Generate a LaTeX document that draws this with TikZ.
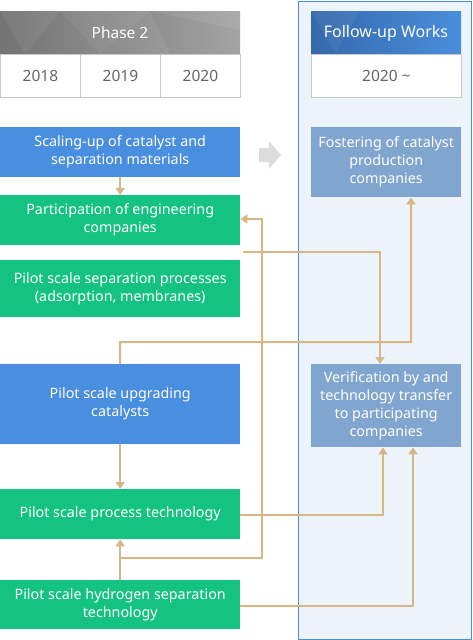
\documentclass[tikz,border=0pt]{standalone}
\usepackage{fontspec}
\setmainfont{Noto Sans}
\usetikzlibrary{arrows.meta}
\definecolor{cblue}{HTML}{4A8EDF}
\definecolor{cgreen}{HTML}{14C382}
\definecolor{csteel}{HTML}{80A6CF}
\definecolor{ctan}{HTML}{D6B785}
\definecolor{cpanel}{HTML}{EDF3FB}
\definecolor{cpanelb}{HTML}{4A8EDF}
\definecolor{cgridl}{HTML}{C8C8C8}
\definecolor{cyear}{HTML}{666666}
\definecolor{carrowg}{HTML}{DCDCDC}
\definecolor{chead1}{HTML}{3468AC}
\definecolor{chead2}{HTML}{4A8EDC}
\begin{document}
\begin{tikzpicture}[x=1pt,y=-1pt,
  boxbase/.style={anchor=north west, inner sep=0pt, text=white, align=center,
    font=\fontsize{14.3}{18}\selectfont},
  bluebox/.style={boxbase, fill=cblue},
  greenbox/.style={boxbase, fill=cgreen},
  steelbox/.style={boxbase, fill=csteel},
  yearbox/.style={anchor=north west, inner sep=0pt, draw=cgridl, line width=0.8pt, fill=white,
    text=cyear, font=\fontsize{15.5}{18}\selectfont},
  headtxt/.style={text=white, font=\fontsize{15.5}{18}\selectfont},
  conn/.style={draw=ctan, line width=2pt, -{Triangle[width=9pt,length=7pt]}},
  connp/.style={draw=ctan, line width=2pt}
]
\useasboundingbox (0,0) rectangle (472,640);
\fill[white] (0,0) rectangle (472,640);

% follow-up panel
\draw[draw=cpanelb, fill=cpanel, line width=1pt] (298,1) rectangle (471,639);

% headers
\shade[left color=black!55, right color=black!33] (0,11) rectangle (240,54);
\fill[white, opacity=0.06] (0,11) -- (60,11) -- (25,54) -- cycle;
\fill[white, opacity=0.05] (60,11) -- (150,11) -- (100,54) -- cycle;
\fill[black, opacity=0.04] (150,11) -- (240,30) -- (240,54) -- (170,54) -- cycle;
\node[headtxt] (ph2) at (120,33) {Phase 2};
\shade[left color=chead1, right color=chead2] (311,11) rectangle (461,54);
\fill[white, opacity=0.05] (311,11) -- (360,11) -- (335,54) -- cycle;
\node[headtxt, font=\fontsize{16}{18}\selectfont] (fw) at (386,33) {Follow-up Works};

\node[yearbox, minimum width=80pt, minimum height=43pt] (y1) at (0,54) {2018};
\node[yearbox, minimum width=80pt, minimum height=43pt] (y2) at (80,54) {2019};
\node[yearbox, minimum width=80pt, minimum height=43pt] (y3) at (160,54) {2020};
\node[yearbox, minimum width=150pt, minimum height=43pt] (y4) at (311,54) {2020 \textasciitilde};

% left boxes
\node[bluebox, minimum width=240pt, minimum height=50pt] (s1) at (0,127) {Scaling-up of catalyst and\\separation materials};
\node[greenbox, minimum width=240pt, minimum height=50pt] (s2) at (0,195) {Participation of engineering\\companies};
\node[greenbox, minimum width=240pt, minimum height=57pt] (s3) at (0,260) {Pilot scale separation processes\\(adsorption, membranes)};
\node[bluebox, minimum width=240pt, minimum height=80pt] (s4) at (0,364) {Pilot scale upgrading\\catalysts};
\node[greenbox, minimum width=240pt, minimum height=50pt] (s5) at (0,489) {Pilot scale process technology};
\node[greenbox, minimum width=240pt, minimum height=49pt] (s6) at (0,580) {Pilot scale hydrogen separation\\technology};

% right boxes
\node[steelbox, minimum width=150pt, minimum height=70pt] (f1) at (311,127) {Fostering of catalyst\\production\\companies};
\node[steelbox, minimum width=150pt, minimum height=83pt] (f2) at (311,364) {Verification by and\\technology transfer\\to participating\\companies};

% grey block arrow
\fill[carrowg] (259,148) -- (269,148) -- (269,141) -- (281,155) -- (269,169) -- (269,162) -- (259,162) -- cycle;

% connectors
\coordinate (j1) at (120,558);
\coordinate (k1) at (262,558);
\coordinate (k2) at (262,219);
\coordinate (p0) at (243,252);
\coordinate (p1) at (380,252);
\coordinate (q0) at (120,342);
\coordinate (q1) at (411,342);
\coordinate (r1) at (383,515);
\coordinate (t1) at (413,606);

\draw[conn] (s1.south) -- (s2.north);
\draw[conn] (s4.south) -- (s5.north);
\draw[conn] (s6.north) -- (s5.south);
\draw[conn] (j1) -- (k1) -- (k2) -- (s2.east |- k2);
\draw[conn] (p0) -- (p1) -- (f2.north -| p1);
\draw[conn] (s4.north) -- (q0) -- (q1) -- (f1.south -| q1);
\draw[conn] (s5.east |- r1) -- (r1) -- (f2.south -| r1);
\draw[conn] (s6.east |- t1) -- (t1) -- (f2.south -| t1);
\end{tikzpicture}
\end{document}
